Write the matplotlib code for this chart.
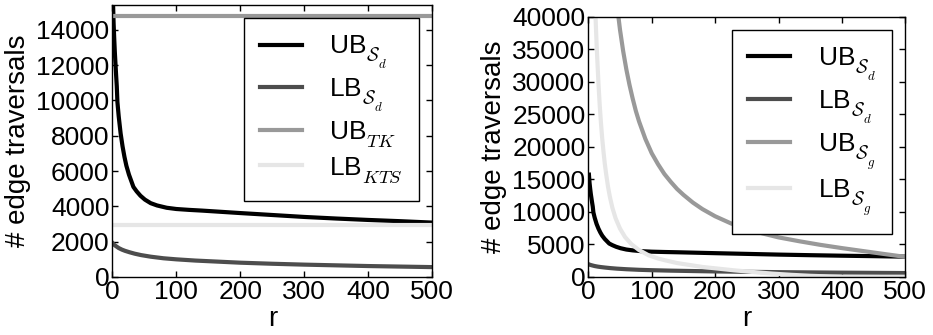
import matplotlib
matplotlib.use("Agg")
import matplotlib.pyplot as plt

plt.rcParams['font.family'] = ['Liberation Sans', 'DejaVu Sans']
plt.rcParams['mathtext.fontset'] = 'cm'
plt.rcParams['axes.linewidth'] = 1.0

# Drop subscripts a little lower than the default Computer Modern placement
try:
    from matplotlib import _mathtext
    _mathtext.ComputerModernFontConstants.sub1 = 0.4
    _mathtext.ComputerModernFontConstants.sub2 = 0.4
except Exception:
    pass

# Upper / lower bounds for S_d (shared by both panels)
r_ub_sd = [1, 2, 3, 4, 5, 6, 7, 8, 10, 13, 16, 19, 22, 26, 30, 33, 38, 44, 51, 60, 70, 85, 100,
           120, 140, 170, 200, 250, 300, 350, 400, 450, 500]
ub_sd = [15700, 14400, 13500, 12700, 12050, 11400, 10800, 9900, 9100, 8130, 7400, 6800, 6300,
         5800, 5400, 5100, 4850, 4600, 4380, 4180, 4050, 3920, 3850, 3800, 3760, 3690, 3620,
         3510, 3400, 3310, 3230, 3160, 3080]

r_lb_sd = [1, 3, 6, 10, 15, 20, 27, 35, 45, 60, 80, 100, 130, 165, 200, 250, 300, 350, 400, 450, 500]
lb_sd = [1900, 1820, 1740, 1640, 1550, 1480, 1400, 1320, 1240, 1150, 1060, 1000, 930, 870, 810,
         750, 700, 660, 620, 590, 560]

# Constant bounds (left panel)
r_const = [0, 500]
ub_tk = [14750, 14750]
lb_kts = [2930, 2930]

# Bounds for S_g (right panel)
r_ub_sg = [45, 50, 55, 60, 65, 70, 75, 80, 90, 100, 110, 120, 130, 140, 150, 165, 180, 200, 225,
           250, 275, 300, 333, 366, 400, 433, 466, 500]
ub_sg = [42000, 38000, 34700, 31900, 29500, 27400, 25500, 23900, 21200, 19000, 17300, 15800,
         14600, 13500, 12600, 11400, 10400, 9300, 8200, 7350, 6650, 6050, 5450, 4900, 4400,
         3950, 3500, 3050]

r_lb_sg = [10, 11, 12, 13, 14, 16, 18, 20, 22, 24, 26, 28, 31, 34, 38, 43, 50, 58, 68, 80, 95,
           110, 120, 140, 160, 180, 204, 230, 260, 290, 320, 350, 380, 400, 500]
lb_sg = [43500, 41000, 38500, 36000, 33800, 29800, 26400, 23600, 21200, 19200, 17400, 15900,
         13900, 12300, 10600, 9000, 7400, 6100, 5000, 4100, 3300, 2800, 2550, 2100, 1800, 1500,
         1250, 980, 720, 480, 290, 140, 40, 0, 0]

LW = 3
C_UB_SD, C_LB_SD, C_UB_2, C_LB_2 = 'black', '0.3', '0.6', '0.9'
FS_TICK, FS_LABEL, FS_LEG = 19, 20, 19

W, H = 933, 335
fig = plt.figure(figsize=(W / 100, H / 100), dpi=100)
ax1 = fig.add_axes([112.3 / W, 58 / H, 320 / W, 272 / H])
ax2 = fig.add_axes([588.3 / W, 58.3 / H, 317 / W, 260 / H])


def style(ax, ymax):
    ax.set_xlim(0, 500)
    ax.set_ylim(0, ymax)
    ax.set_xticks([0, 100, 200, 300, 400, 500])
    ax.tick_params(direction='in', top=True, right=True, length=4, width=1,
                   labelsize=FS_TICK, colors='black')
    ax.tick_params(axis='y', pad=2)
    ax.tick_params(axis='x', pad=2.5)
    ax.set_xlabel('r', fontsize=FS_LABEL, labelpad=1)
    ax.set_ylabel('# edge traversals', fontsize=FS_LABEL, labelpad=4)
    leg = ax.legend(loc='upper right', fontsize=FS_LEG, frameon=True, fancybox=False,
                    edgecolor='black', framealpha=1, handlelength=1.6, handletextpad=1.05,
                    borderpad=0.6, labelspacing=0.2)
    leg.get_frame().set_linewidth(1.0)


ax1.plot(r_ub_sd, ub_sd, color=C_UB_SD, lw=LW, label=r'UB$_{\mathcal{S}_d}$')
ax1.plot(r_lb_sd, lb_sd, color=C_LB_SD, lw=LW, label=r'LB$_{\mathcal{S}_d}$')
ax1.plot(r_const, ub_tk, color=C_UB_2, lw=LW, label=r'UB$_{TK}$')
ax1.plot(r_const, lb_kts, color=C_LB_2, lw=LW, label=r'LB$_{KTS}$')
style(ax1, 15400)
ax1.set_yticks(range(0, 14001, 2000))

ax2.plot(r_ub_sd, ub_sd, color=C_UB_SD, lw=LW, label=r'UB$_{\mathcal{S}_d}$')
ax2.plot(r_lb_sd, lb_sd, color=C_LB_SD, lw=LW, label=r'LB$_{\mathcal{S}_d}$')
ax2.plot(r_ub_sg, ub_sg, color=C_UB_2, lw=LW, label=r'UB$_{\mathcal{S}_g}$')
ax2.plot(r_lb_sg, lb_sg, color=C_LB_2, lw=LW, label=r'LB$_{\mathcal{S}_g}$')
style(ax2, 40000)
ax2.set_yticks(range(0, 40001, 5000))

fig.savefig('out.png', dpi=100)
